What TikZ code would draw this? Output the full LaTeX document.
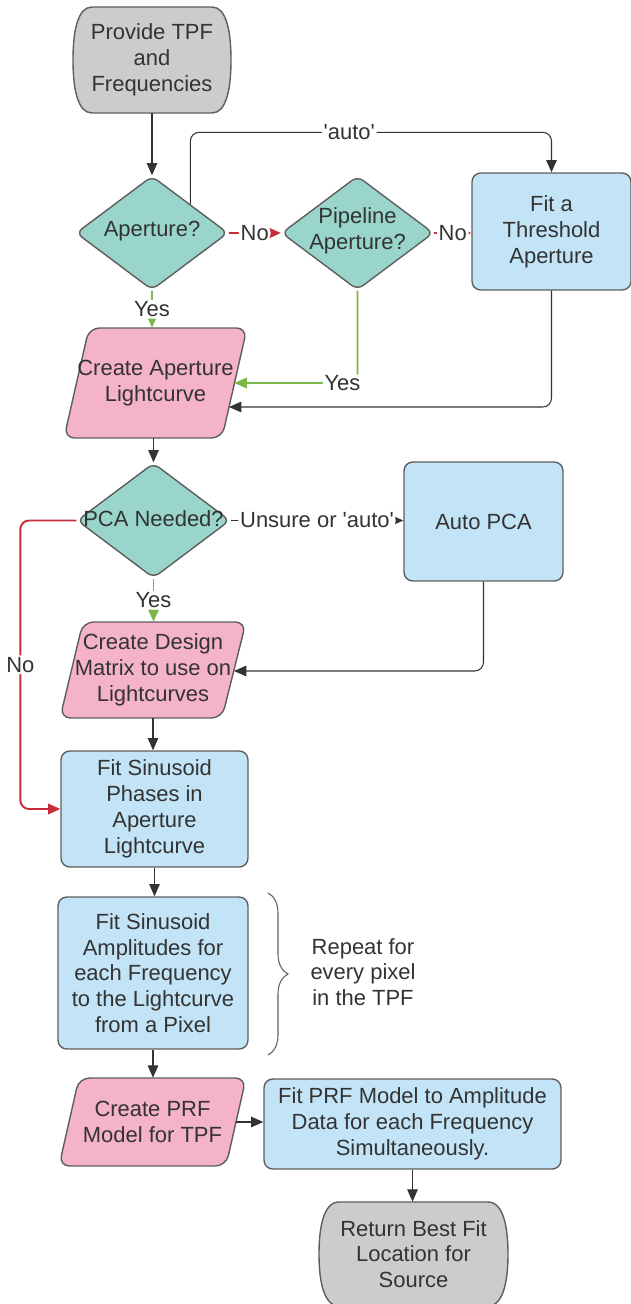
\documentclass[tikz,border=0pt]{standalone}
\usepackage{fontspec}
\setmainfont{Liberation Sans}
\usetikzlibrary{shapes.geometric,arrows.meta,decorations.pathreplacing,calc}
\definecolor{txt}{HTML}{333333}
\definecolor{bord}{HTML}{5E5E5E}
\definecolor{tealf}{HTML}{99D5CA}
\definecolor{pinkf}{HTML}{F4B3C7}
\definecolor{bluef}{HTML}{C2E4F6}
\definecolor{grayf}{HTML}{CCCCCC}
\definecolor{redl}{HTML}{C92D39}
\definecolor{greenl}{HTML}{7AB648}
\definecolor{arr}{HTML}{333333}
\begin{document}
\begin{tikzpicture}[x=0.02cm,y=-0.02cm, font=\fontsize{12.5}{14.7}\selectfont, text=txt,
 box/.style={draw=bord, line width=0.8pt, fill=bluef, rounded corners=5pt, align=center, inner sep=0pt},
 dia/.style={diamond, draw=bord, line width=0.8pt, fill=tealf, rounded corners=4pt, inner sep=0pt},
 shp/.style={draw=bord, line width=0.8pt},
 lbl/.style={align=center, inner sep=0pt},
 con/.style={draw=arr, line width=0.6pt, -{Triangle[length=7pt,width=6pt]}, rounded corners=5pt},
 rcon/.style={draw=redl, line width=1.1pt, -{Triangle[length=7pt,width=6pt]}, rounded corners=5pt},
 gcon/.style={draw=greenl, line width=1.1pt, -{Triangle[length=7pt,width=6pt]}, rounded corners=5pt},
 tag/.style={fill=white, inner sep=1pt, text=txt}
]
\useasboundingbox (0,0) rectangle (631,1304);

% start terminal
\path[shp, fill=grayf] (92,7) -- (212,7) .. controls (226,7) and (231,30) .. (231,60) .. controls (231,90) and (226,113) .. (212,113) -- (92,113) .. controls (78,113) and (73,90) .. (73,60) .. controls (73,30) and (78,7) .. (92,7) -- cycle;
\node[lbl, minimum width=3.16cm, minimum height=2.12cm] (start) at (152,60) {Provide TPF\\and\\Frequencies};

% diamonds
\node[dia, minimum width=3.04cm, minimum height=2.28cm] (ap) at (152,233) {};
\node[lbl] (apt) at (152,231) {Aperture?};
\node[dia, minimum width=3.04cm, minimum height=2.28cm] (pipe) at (357.5,233) {};
\node[lbl] (pipet) at (357.5,230.5) {Pipeline\\Aperture?};

% threshold box
\node[box, minimum width=3.18cm, minimum height=2.34cm] (thr) at (551.5,231.5) {Fit a\\Threshold\\Aperture};

% create aperture lightcurve
\path[shp, fill=pinkf, rounded corners=6pt] (89,328) -- (247,328) -- (222,438) -- (64,438) -- cycle;
\node[lbl, minimum height=2.2cm] (cal) at (155.5,383) {Create Aperture\\Lightcurve};
\coordinate (calg) at (234.5,383);
\coordinate (calb) at (229,407);

% PCA
\node[dia, minimum width=3.06cm, minimum height=2.3cm] (pca) at (153.5,520.5) {};
\node[lbl] (pcat) at (153.5,519) {PCA Needed?};
\node[box, minimum width=3.18cm, minimum height=2.38cm] (apca) at (483.5,521.5) {Auto PCA};

% design matrix
\path[shp, fill=pinkf, rounded corners=6pt] (83,622) -- (246,622) -- (222,718) -- (60,718) -- cycle;
\node[lbl, minimum height=1.92cm] (cdm) at (153,670) {Create Design\\Matrix to use on\\Lightcurves};
\coordinate (cdmr) at (234,671);

% fits
\node[box, minimum width=3.74cm, minimum height=2.32cm] (fsp) at (154.5,809) {Fit Sinusoid\\Phases in\\Aperture\\Lightcurve};
\node[box, minimum width=3.8cm, minimum height=3.04cm] (fsa) at (153,973) {Fit Sinusoid\\Amplitudes for\\each Frequency\\to the Lightcurve\\from a Pixel};

% brace and repeat text
\draw[bord, line width=0.6pt, decorate, decoration={brace, amplitude=0.4cm}] (268,893) -- (268,1055);
\node[lbl] (rep) at (363,972) {Repeat for\\every pixel\\in the TPF};

% PRF
\path[shp, fill=pinkf, rounded corners=6pt] (79,1078) -- (246,1078) -- (226,1166) -- (59,1166) -- cycle;
\node[lbl, minimum height=1.76cm] (cprf) at (152.5,1122) {Create PRF\\Model for TPF};
\coordinate (cprfr) at (236,1122);
\node[box, minimum width=5.94cm, minimum height=1.8cm] (fprf) at (412.5,1124) {Fit PRF Model to Amplitude\\Data for each Frequency\\Simultaneously.};

% return terminal
\path[shp, fill=grayf] (339,1202) -- (488,1202) .. controls (503,1202) and (508,1226) .. (508,1254) .. controls (508,1282) and (503,1306) .. (488,1306) -- (339,1306) .. controls (324,1306) and (319,1282) .. (319,1254) .. controls (319,1226) and (324,1202) .. (339,1202) -- cycle;
\node[lbl, minimum width=3.78cm, minimum height=2.08cm] (ret) at (413.5,1254) {Return Best Fit\\Location for\\Source};

% connectors
\draw[con] (start.south) -- (ap.north);
\draw[rcon] (ap.east) -- node[tag]{No} (pipe.west);
\draw[rcon] (pipe.east) -- node[tag]{No} (pipe.east -| thr.west);
\draw[con] (ap.north east) |- node[tag, pos=0.72]{\textquotesingle auto\textquotesingle} ($(thr.north)+(0,-40)$) -- (thr.north);
\draw[gcon] (ap.south) -- node[tag]{Yes} (ap.south |- cal.north);
\draw[gcon] (pipe.south) |- node[tag, pos=0.5, xshift=-0.3cm]{Yes} (calg);
\draw[con] (thr.south) |- (calb);
\draw[con] (pca.north |- cal.south) -- (pca.north);
\draw[con] (pca.east) -- node[tag]{Unsure or \textquotesingle auto\textquotesingle} (pca.east -| apca.west);
\draw[rcon] (pca.west) -- ++(-56,0) |- node[tag, pos=0.25]{No} (fsp.west);
\draw[gcon] (pca.south) -- node[tag]{Yes} (pca.south |- cdm.north);
\draw[con] (apca.south) |- (cdmr);
\draw[con] (cdm.south) -- (cdm.south |- fsp.north);
\draw[con] (fsp.south) -- (fsp.south |- fsa.north);
\draw[con] (fsa.south) -- (fsa.south |- cprf.north);
\draw[con] (cprfr) -- (cprfr -| fprf.west);
\draw[con] (fprf.south) -- (fprf.south |- ret.north);
\end{tikzpicture}
\end{document}
